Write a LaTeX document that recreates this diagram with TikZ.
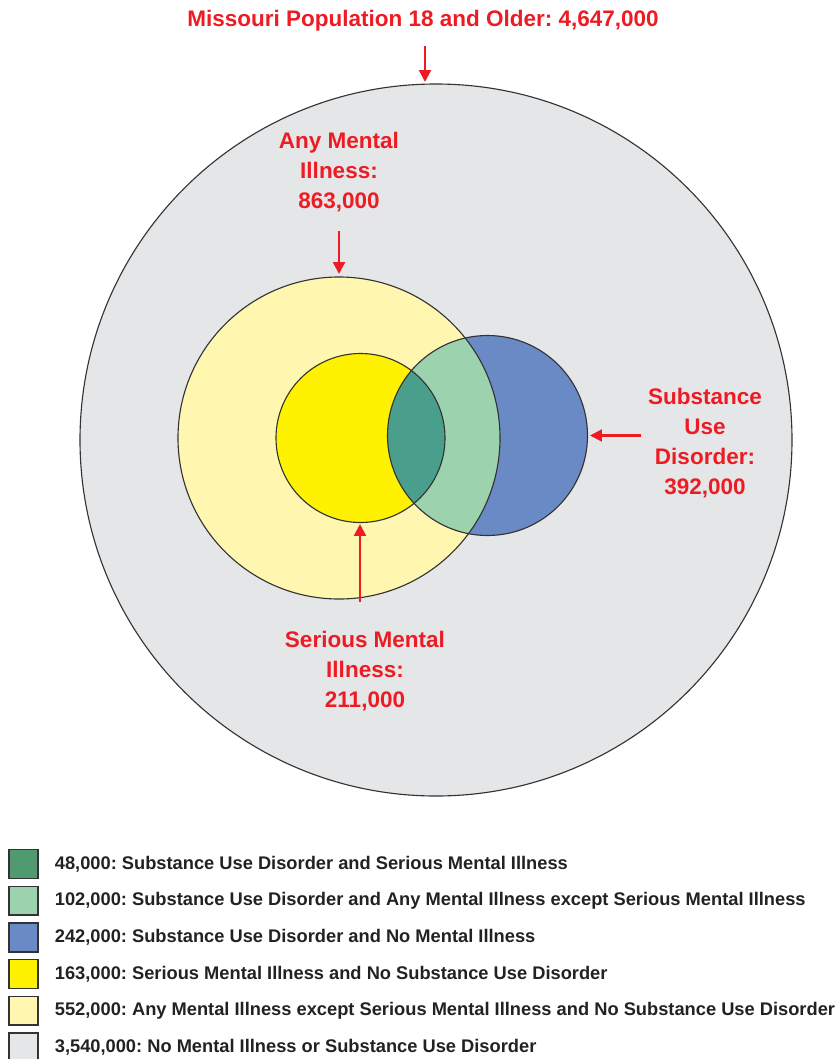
\documentclass[tikz,border=0pt]{standalone}
\usepackage{fontspec}
\setmainfont{Liberation Sans}
\usetikzlibrary{arrows.meta,positioning}

\definecolor{vennred}{HTML}{ED1C24}
\definecolor{popgray}{HTML}{E5E6E8}
\definecolor{amiyellow}{HTML}{FFF7B0}
\definecolor{smiyellow}{HTML}{FFF200}
\definecolor{sudblue}{HTML}{6A8AC6}
\definecolor{mixgreen}{HTML}{9CD3AE}
\definecolor{mixteal}{HTML}{4A9E8C}
\definecolor{legdark}{HTML}{4F9B6F}
\definecolor{ringgray}{HTML}{333333}
\definecolor{legtextcol}{HTML}{222222}

\tikzset{
  redlabel/.style={text=vennred, font=\bfseries\fontsize{16}{21.5}\selectfont, align=center},
  redarrow/.style={vennred, line width=1.6pt, -{Triangle[length=8.5pt,width=8.5pt]}},
  ring/.style={draw=ringgray, line width=0.8pt},
  legbox/.style={draw=ringgray, line width=1.1pt, minimum size=0.72cm, inner sep=0pt},
  legtext/.style={text=legtextcol, font=\bfseries\fontsize{13}{15}\selectfont}
}

\begin{document}
\frenchspacing
\begin{tikzpicture}[x=0.025cm, y=-0.025cm]
\useasboundingbox (0,0) rectangle (839,1059);

% centres of the circles
\coordinate (popC) at (436,440);
\coordinate (amiC) at (339,438);
\coordinate (smiC) at (360.5,438);
\coordinate (sudC) at (487.5,435.5);

% fills
\fill[popgray] (popC) circle[radius=356];
\fill[amiyellow] (amiC) circle[radius=161];
\fill[sudblue] (sudC) circle[radius=100];
\begin{scope}
  \clip (sudC) circle[radius=100];
  \fill[mixgreen] (amiC) circle[radius=161];
\end{scope}
\fill[smiyellow] (smiC) circle[radius=84.5];
\begin{scope}
  \clip (sudC) circle[radius=100];
  \fill[mixteal] (smiC) circle[radius=84.5];
\end{scope}

% outlines
\draw[ring] (popC) circle[radius=356];
\draw[ring] (amiC) circle[radius=161];
\draw[ring] (sudC) circle[radius=100];
\draw[ring] (smiC) circle[radius=84.5];

% arrow targets
\coordinate (popTop) at (425,82);
\coordinate (amiTop) at (339,274);
\coordinate (sudRight) at (590,435.5);
\coordinate (smiBottom) at (360,524);

% labels
\node[redlabel] (title) at (423,21) {Missouri Population 18 and Older: 4,647,000};
\node[redlabel] (amiLabel) at (339,172) {Any Mental\\Illness:\\863,000};
\node[redlabel] (sudLabel) at (705,443) {Substance\\Use\\Disorder:\\392,000};
\node[redlabel] (smiLabel) at (365,671) {Serious Mental\\Illness:\\211,000};

\draw[redarrow, shorten <=0.25cm] (title.south -| popTop) -- (popTop);
\draw[redarrow, shorten <=0.35cm] (amiLabel.south -| amiTop) -- (amiTop);
\draw[redarrow, shorten <=0.05cm] (sudLabel.west |- sudRight) -- (sudRight);
\draw[redarrow, shorten <=0.6cm] (smiLabel.north -| smiBottom) -- (smiBottom);

% legend
\foreach \i/\fc/\txt in {
  0/legdark/{48,000: Substance Use Disorder and Serious Mental Illness},
  1/mixgreen/{102,000: Substance Use Disorder and Any Mental Illness except Serious Mental Illness},
  2/sudblue/{242,000: Substance Use Disorder and No Mental Illness},
  3/smiyellow/{163,000: Serious Mental Illness and No Substance Use Disorder},
  4/amiyellow/{552,000: Any Mental Illness except Serious Mental Illness and No Substance Use Disorder},
  5/popgray/{3,540,000: No Mental Illness or Substance Use Disorder}}{
  \node[legbox, fill=\fc] (box\i) at (23.5,{864+36.7*\i}) {};
  \node[legtext, right=0.28cm of box\i] (leg\i) {\txt};
}
\end{tikzpicture}
\end{document}
